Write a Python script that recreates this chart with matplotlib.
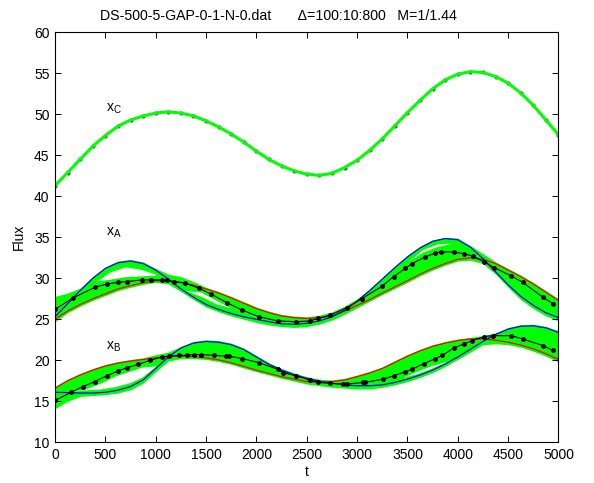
import numpy as np
import matplotlib
matplotlib.use("Agg")
import matplotlib.pyplot as plt

plt.rcParams['font.family'] = ['Liberation Sans', 'DejaVu Sans']
plt.rcParams['mathtext.fontset'] = 'custom'
plt.rcParams['mathtext.rm'] = 'Liberation Sans'
plt.rcParams['mathtext.it'] = 'Liberation Sans'

# common time grid for the model curves and the green bands
t_grid = np.arange(0, 5001, 125)

# ---- x_A ----
red_A = [25.0, 26.0, 26.8, 27.5, 28.1, 28.7, 29.1, 29.45, 29.7, 29.7, 29.5, 29.15,
         28.7, 28.2, 27.6, 26.95, 26.3, 25.8, 25.4, 25.2, 25.1, 25.2, 25.4, 26.0,
         26.7, 27.4, 28.2, 28.95, 29.7, 30.5, 31.2, 31.8, 32.3, 32.5, 32.3, 31.8,
         31.0, 30.2, 29.3, 28.3, 27.3]
blue_A = [25.3, 26.9, 28.5, 30.0, 31.2, 31.9, 32.1, 31.8, 31.0, 29.9, 28.7, 27.7,
          26.8, 26.2, 25.7, 25.3, 25.0, 24.7, 24.45, 24.4, 24.5, 24.8, 25.3, 26.1,
          27.2, 28.5, 29.9, 31.3, 32.6, 33.7, 34.5, 34.85, 34.7, 33.8, 32.4, 30.8,
          29.2, 27.8, 26.7, 25.8, 25.2]
green_A_hi = [27.8, 28.2, 28.8, 30.2, 31.4, 32.1, 32.3, 32.0, 31.2, 30.5, 30.2, 29.6,
              28.9, 28.4, 27.8, 27.15, 26.5, 26.0, 25.6, 25.4, 25.3, 25.5, 25.9, 26.6,
              27.5, 28.7, 30.1, 31.5, 32.8, 33.9, 34.7, 35.0, 34.9, 34.0, 33.0, 32.0,
              31.2, 30.4, 29.5, 28.5, 27.5]
green_A_lo = [24.7, 25.8, 26.6, 27.3, 27.9, 28.5, 28.9, 29.25, 29.5, 29.3, 28.4, 27.4,
              26.5, 25.9, 25.4, 25.0, 24.6, 24.3, 24.1, 24.0, 24.1, 24.4, 24.9, 25.6,
              26.4, 27.2, 28.0, 28.75, 29.5, 30.3, 31.0, 31.6, 32.1, 32.2, 31.8, 30.5,
              28.9, 27.4, 26.3, 25.4, 24.8]
gaps_A = [
    ([420, 550, 700, 850, 1000], [29.7, 29.9, 30.2, 30.3, 30.4], [29.7, 30.8, 31.4, 31.1, 30.5]),
    ([1300, 1450, 1600, 1750], [28.5, 27.8, 26.9, 26.4], [28.5, 28.3, 27.3, 26.4]),
    ([3500, 3650, 3800, 3950], [32.0, 33.2, 33.9, 34.3], [32.0, 33.5, 34.2, 34.3]),
]
obs_A_t = [0, 178, 395, 512, 628, 712, 862, 950, 1062, 1112, 1178, 1295, 1428,
           1545, 1712, 1862, 2028, 2212, 2395, 2528, 2612, 2728, 2895, 3045,
           3245, 3362, 3478, 3545, 3678, 3778, 3835, 3962, 4062, 4152, 4262,
           4362, 4528, 4645, 4845, 4945]
obs_A = [26.2, 27.6, 28.9, 29.3, 29.5, 29.6, 29.8, 29.8, 29.8, 29.75, 29.6, 29.4, 28.8,
         28.1, 27.0, 26.1, 25.3, 24.8, 24.7, 24.8, 25.1, 25.5, 26.4, 27.5,
         29.0, 30.2, 31.2, 31.8, 32.6, 33.1, 33.2, 33.2, 33.0, 32.7, 32.0,
         31.3, 30.3, 29.5, 27.7, 26.9]

# ---- x_B ----
red_B = [16.6, 17.5, 18.2, 18.8, 19.3, 19.65, 19.9, 20.1, 20.3, 20.45, 20.5, 20.45,
         20.3, 20.05, 19.7, 19.25, 18.8, 18.4, 18.0, 17.7, 17.4, 17.3, 17.4, 17.6,
         18.0, 18.45, 19.0, 19.75, 20.5, 21.15, 21.7, 22.1, 22.4, 22.6, 22.6, 22.45,
         22.2, 21.85, 21.4, 20.8, 20.1]
blue_B = [16.1, 16.05, 16.0, 16.0, 16.1, 16.35, 16.8, 17.6, 19.0, 20.4, 21.5, 22.1,
          22.3, 22.2, 21.9, 21.3, 20.4, 19.5, 18.8, 18.25, 17.8, 17.45, 17.2, 17.0,
          16.9, 16.9, 17.0, 17.3, 17.7, 18.2, 18.8, 19.55, 20.4, 21.35, 22.3, 23.15,
          23.8, 24.15, 24.2, 23.95, 23.4]
green_B_hi = [16.8, 17.7, 18.4, 19.0, 19.5, 19.85, 20.1, 20.3, 20.7, 21.0, 21.7, 22.3,
              22.5, 22.4, 22.1, 21.5, 20.6, 19.7, 19.0, 18.45, 18.0, 17.7, 17.6, 17.8,
              18.2, 18.65, 19.2, 19.95, 20.7, 21.35, 21.9, 22.3, 22.6, 22.8, 23.0, 23.35,
              24.0, 24.35, 24.4, 24.15, 23.6]
green_B_lo = [14.1, 15.0, 15.6, 15.7, 15.8, 16.0, 16.4, 17.2, 18.6, 19.9, 20.2, 20.2,
              20.1, 19.85, 19.5, 19.05, 18.6, 18.2, 17.8, 17.45, 17.1, 16.9, 16.7, 16.6,
              16.5, 16.5, 16.7, 17.0, 17.4, 17.9, 18.5, 19.25, 20.1, 21.0, 21.9, 22.0,
              21.9, 21.6, 21.1, 20.5, 19.8]
gaps_B = [
    ([150, 300, 450, 600, 750, 870, 1000], [16.2, 16.4, 16.5, 16.8, 17.3, 18.0, 19.3],
     [16.2, 16.5, 17.2, 18.1, 18.7, 19.2, 19.3]),
    ([3450, 3600, 3750, 3900], [17.9, 18.4, 19.1, 19.9], [17.9, 18.7, 19.4, 19.9]),
]
obs_B_t = [0, 162, 278, 395, 512, 628, 712, 828, 945, 1062, 1130, 1228, 1312,
           1380, 1445, 1578, 1695, 1728, 1862, 2028, 2212, 2262, 2395, 2528,
           2612, 2728, 2862, 2895, 3062, 3078, 3262, 3362, 3478, 3545, 3662,
           3778, 3845, 3962, 4062, 4145, 4262, 4345, 4528, 4645, 4845, 4945]
obs_B = [15.1, 16.1, 16.8, 17.4, 18.1, 18.7, 19.1, 19.5, 20.0, 20.4, 20.5, 20.6, 20.6,
         20.7, 20.7, 20.6, 20.5, 20.5, 20.2, 19.7, 18.9, 18.5, 18.1, 17.6,
         17.3, 17.2, 17.1, 17.1, 17.3, 17.3, 17.7, 18.1, 18.6, 18.9, 19.6,
         20.2, 20.6, 21.5, 22.0, 22.4, 22.9, 23.0, 23.0, 22.6, 21.8, 21.2]

# ---- x_C ----
x_C = [41.3, 42.9, 44.5, 46.1, 47.4, 48.55, 49.3, 49.8, 50.15, 50.3, 50.15, 49.8,
       49.2, 48.45, 47.6, 46.6, 45.5, 44.5, 43.7, 43.1, 42.7, 42.55, 42.8, 43.5,
       44.4, 45.6, 47.0, 48.6, 50.2, 51.7, 53.1, 54.2, 54.9, 55.2, 55.1, 54.6,
       53.8, 52.6, 51.1, 49.3, 47.5]

labels = {"x$_{\\mathrm{C}}$": 50.3, "x$_{\\mathrm{A}}$": 35.2, "x$_{\\mathrm{B}}$": 21.3}

fig = plt.figure(figsize=(5.94, 4.83), dpi=100)
ax = fig.add_axes([0.0926, 0.0843, 0.8476, 0.8488])

green = '#00ff00'
for hi, lo, gaps in [(green_A_hi, green_A_lo, gaps_A), (green_B_hi, green_B_lo, gaps_B)]:
    ax.fill_between(t_grid, lo, hi, color=green, lw=0)
    for gt, glo, ghi in gaps:
        ax.fill_between(gt, glo, ghi, color='white', lw=0)

for red, blue in [(red_A, blue_A), (red_B, blue_B)]:
    ax.plot(t_grid, red, color='#ff0000', lw=0.9)
    ax.plot(t_grid, blue, color='#0000ff', lw=0.9)

for tt, yy in [(obs_A_t, obs_A), (obs_B_t, obs_B)]:
    ax.plot(tt, yy, color='black', lw=0.8, marker='.', ms=5)

ax.plot(t_grid, x_C, color='#555555', lw=0.8, marker='.', ms=4)
ax.plot(t_grid, x_C, color=green, lw=2.2)

for txt, yv in labels.items():
    ax.text(510, yv, txt, fontsize=10, va='baseline', ha='left')

ax.set_xlim(0, 5000)
ax.set_ylim(10, 60)
ax.set_xticks(range(0, 5001, 500))
ax.set_yticks(range(10, 61, 5))
ax.tick_params(direction='in', top=True, right=True, length=4, width=0.7, labelsize=10, pad=4)
for s in ax.spines.values():
    s.set_linewidth(0.8)

ax.set_xlabel('t', fontsize=10, labelpad=2)
ax.set_ylabel('Flux', fontsize=10, labelpad=6)
ax.set_title('DS-500-5-GAP-0-1-N-0.dat       \u0394=100:10:800   M=1/1.44',
             fontsize=10.2, pad=9, x=0.443)

fig.savefig('out.png', dpi=100)
